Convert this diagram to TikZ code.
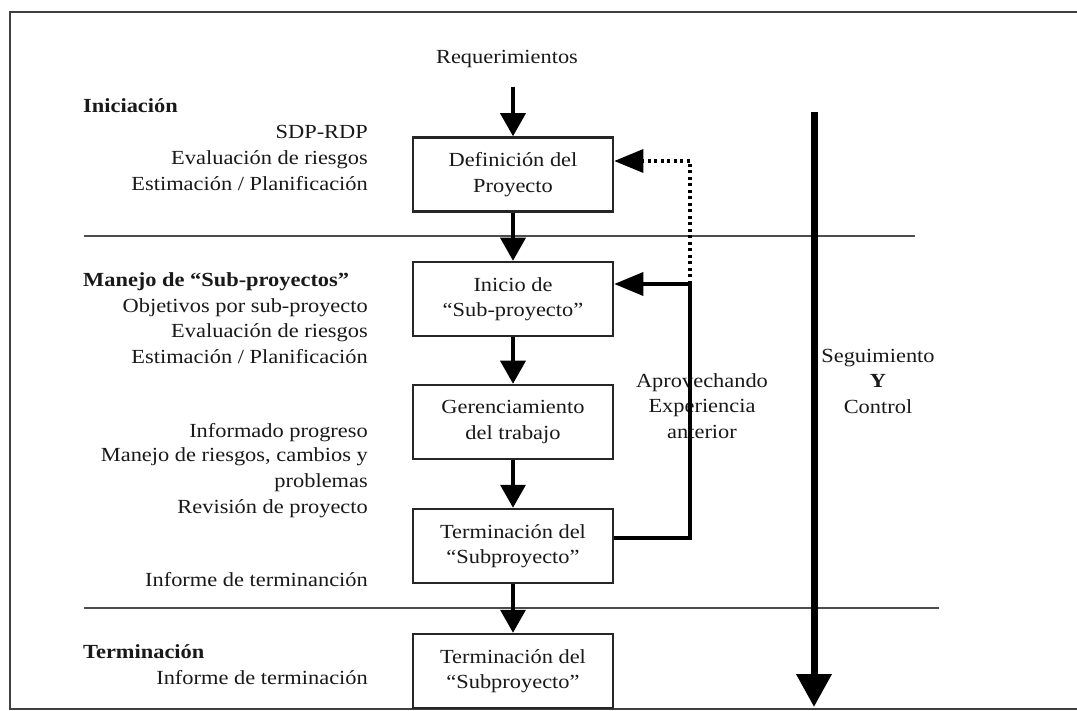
\documentclass[tikz,border=0pt]{standalone}
\usepackage{fontspec}
\setmainfont{Liberation Serif}[FakeStretch=1.12]
\usetikzlibrary{arrows.meta}
\begin{document}
\begin{tikzpicture}[x=1pt,y=-1pt,
  every node/.style={font=\fontsize{20}{25.5}\selectfont, inner sep=0pt, text=black!90},
  head/.style={font=\fontsize{20}{25.5}\selectfont\bfseries},
  box/.style={draw=black!85, line width=2.5pt, minimum width=200pt, minimum height=74pt, align=center},
  conn/.style={draw=black, line width=3.5pt},
  varrow/.style={-{Triangle[length=23pt,width=25pt]}},
  harrow/.style={-{Triangle[length=29pt,width=23pt]}},
  dotline/.style={draw=black, line width=3.2pt, dash pattern=on 3pt off 3.5pt},
  sepline/.style={draw=black!70, line width=2pt},
  frameline/.style={draw=black!75, line width=2pt}
]
\useasboundingbox (0,0) rectangle (1077,711);
\fill[white] (0,0) rectangle (1077,711);

% frame
\draw[frameline] (1077,709) -- (10,709) -- (10,12) -- (1077,12);

% separators
\draw[sepline] (84,236) -- (915,236);
\draw[sepline] (84,608) -- (939,608);

% boxes
\node[box] (b1) at (513,174.5) {Definición del\\Proyecto};
\node[box] (b2) at (513,299) {Inicio de\\“Sub-proyecto”};
\node[box] (b3) at (513,422) {Gerenciamiento\\del trabajo};
\node[box] (b4) at (513,546) {Terminación del\\“Subproyecto”};
\node[box] (b5) at (513,671) {Terminación del\\“Subproyecto”};

% top input
\node[anchor=base] (req) at (507,64) {Requerimientos};
\coordinate (reqend) at (513,87);

% left texts
\node[head, anchor=base west] (h1) at (83,113) {Iniciación};
\node[anchor=base east] (l1) at (368,139) {SDP-RDP};
\node[anchor=base east] (l2) at (368,165) {Evaluación de riesgos};
\node[anchor=base east] (l3) at (368,191) {Estimación / Planificación};

\node[head, anchor=base west] (h2) at (83,287) {Manejo de “Sub-proyectos”};
\node[anchor=base east] (l4) at (368,313) {Objetivos por sub-proyecto};
\node[anchor=base east] (l5) at (368,338) {Evaluación de riesgos};
\node[anchor=base east] (l6) at (368,364) {Estimación / Planificación};
\node[anchor=base east] (l7) at (368,437) {Informado progreso};
\node[anchor=base east] (l8) at (368,461) {Manejo de riesgos, cambios y};
\node[anchor=base east] (l9) at (368,487) {problemas};
\node[anchor=base east] (l10) at (368,513) {Revisión de proyecto};
\node[anchor=base east] (l11) at (368,586) {Informe de terminanción};

\node[head, anchor=base west] (h3) at (83,658) {Terminación};
\node[anchor=base east] (l12) at (368,684) {Informe de terminación};

% right texts
\node[align=center] (apr) at (702,406) {Aprovechando\\Experiencia\\anterior};
\node[align=center] (seg) at (878,381) {Seguimiento\\\textbf{Y}\\Control};

% main flow
\draw[conn, varrow] (reqend) -- (b1.north);
\draw[conn, varrow] (b1) -- (b2);
\draw[conn, varrow] (b2) -- (b3);
\draw[conn, varrow] (b3) -- (b4);
\draw[conn, varrow] (b4) -- (b5);

% feedback
\coordinate (j1) at (690,538);
\coordinate (j2) at (690,284);
\coordinate (j3) at (690,161);
\draw[dotline, harrow] (j2) -- (j3) -- (j3 -| b1.east);
\draw[conn, harrow] ([yshift=8pt]b4.east) -- (j1) -- (j2) -- (j2 -| b2.east);

% tracking arrow
\coordinate (s1) at (814,112);
\coordinate (s2) at (814,707);
\draw[draw=black, line width=7pt, -{Triangle[length=33pt,width=34pt]}] (s1) -- (s2);
\end{tikzpicture}
\end{document}
